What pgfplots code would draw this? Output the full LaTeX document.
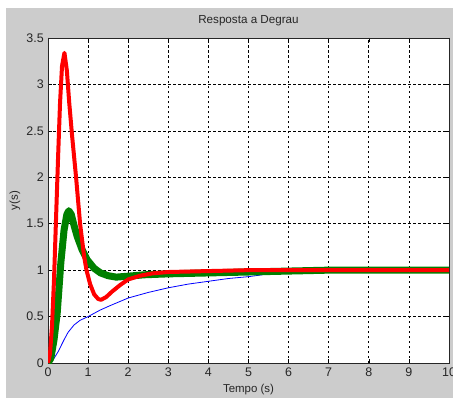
\documentclass[border=0pt]{standalone}
\usepackage{fontspec}
\setmainfont{Liberation Sans}
\usepackage{pgfplots}
\pgfplotsset{compat=1.18}
\definecolor{figgray}{RGB}{204,204,204}
\definecolor{mred}{RGB}{255,0,0}
\definecolor{mgreen}{RGB}{0,128,0}
\definecolor{mblue}{RGB}{0,0,255}
\begin{document}
\begin{tikzpicture}[x=1bp,y=1bp]
\useasboundingbox (0,0) rectangle (453,398);
\fill[figgray] (6,0) rectangle (453,390);
\begin{axis}[
  at={(48bp,35bp)}, anchor=south west,
  scale only axis, width=401bp, height=325bp,
  xmin=0, xmax=10, ymin=0, ymax=3.5,
  xtick={0,1,...,10}, ytick={0,0.5,1,1.5,2,2.5,3,3.5},
  grid=major,
  grid style={black, dash pattern=on 2.5bp off 2.5bp, line width=0.7bp},
  axis background/.style={fill=white},
  axis line style={black!85, line width=0.8bp},
  tick style={black, line width=0.6bp},
  tick align=inside, major tick length=4bp,
  /pgf/number format/assume math mode=true,
  ticklabel style={font=\fontsize{12.5}{14}\selectfont, text=black!85},
  xticklabel style={anchor=north, inner sep=0pt, yshift=-5bp},
  yticklabel style={anchor=east, inner sep=0pt, xshift=-4bp},
  title={Resposta a Degrau},
  title style={at={(0.5,1.0268)}, anchor=base, inner sep=0pt, font=\fontsize{11.7}{13}\selectfont, text=black!85},
  xlabel={Tempo (s)},
  xlabel style={at={(0.5,-0.0914)}, anchor=base, inner sep=0pt, font=\fontsize{11.5}{13}\selectfont, text=black!85},
  ylabel={y(s)},
  ylabel style={at={(-0.0823,0.5)}, anchor=center, inner sep=0pt, font=\fontsize{11.5}{13}\selectfont, text=black!85},
]
\addplot[mblue, line width=0.8bp] coordinates {
(0,0) (0.15,0.05) (0.25,0.12) (0.4,0.25) (0.5,0.33) (0.65,0.41) (0.8,0.46)
(1.0,0.5) (1.3,0.57) (1.56,0.62) (2.0,0.7) (2.5,0.76) (3.0,0.81) (3.5,0.85)
(4.0,0.88) (4.5,0.91) (5.0,0.93) (5.35,0.95)
};
\addplot[mgreen, line width=7bp, line join=round] coordinates {
(0,0) (0.07,0.05) (0.15,0.25) (0.23,0.54) (0.32,1.08) (0.4,1.43) (0.47,1.6)
(0.52,1.64) (0.58,1.6) (0.65,1.48) (0.73,1.36) (0.85,1.22) (0.98,1.11)
(1.15,1.02) (1.31,0.97) (1.5,0.94) (1.7,0.925) (2.0,0.935) (2.4,0.95)
(3.0,0.96) (4.0,0.97) (5.0,0.98) (6.0,0.99) (7.0,1.0) (10,1.0)
};
\addplot[mred, line width=4bp, line join=round] coordinates {
(0,0) (0.05,0.1) (0.1,0.4) (0.15,0.9) (0.2,1.55) (0.25,2.2) (0.3,2.8)
(0.35,3.2) (0.41,3.34) (0.47,3.15) (0.53,2.8) (0.6,2.45) (0.7,2.0) (0.8,1.5)
(0.9,1.15) (0.96,1.0) (1.05,0.85) (1.15,0.74) (1.25,0.69) (1.32,0.68)
(1.45,0.71) (1.6,0.77) (1.8,0.84) (2.0,0.9) (2.3,0.94) (2.6,0.965)
(3.0,0.98) (4.0,0.99) (5.0,1.0) (10,1.0)
};
\end{axis}
\end{tikzpicture}
\end{document}
